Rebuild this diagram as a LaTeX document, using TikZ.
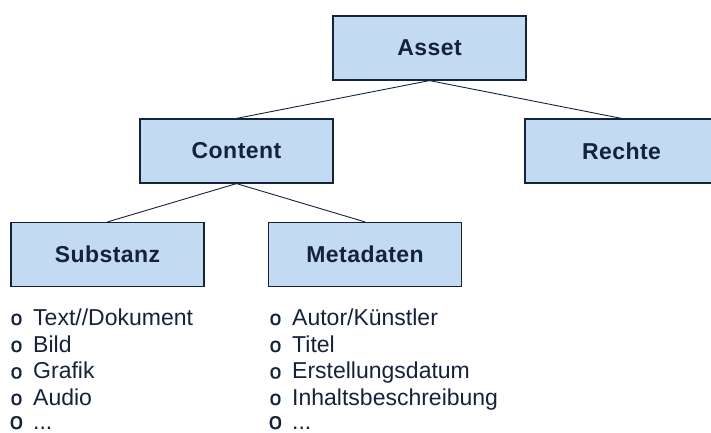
\documentclass[tikz,border=0pt]{standalone}
\usepackage{fontspec}
\setmainfont{Liberation Sans}
\newfontfamily\labelfont[LetterSpace=2]{Liberation Sans}
\newfontfamily\bulletfont[FakeBold=0.6]{Liberation Mono}
\usepackage{xcolor}
\definecolor{boxblue}{HTML}{C2DAF2}
\definecolor{inkblue}{HTML}{14233A}
\newcommand{\bul}{\makebox[24pt][l]{\hspace{1pt}\fontsize{21}{24}\bulletfont o}}
\newcommand{\bigbul}{\makebox[24pt][l]{\fontsize{24}{26}\bulletfont o}}
\tikzset{
    box/.style = {draw=inkblue, fill=boxblue, line width=1.2pt, rectangle, minimum width=193pt, minimum height=64pt, inner sep=0pt, text=inkblue, font=\labelfont\bfseries\fontsize{23}{27}\selectfont},
    listitem/.style = {anchor=base west, inner sep=0pt, text=inkblue, font=\fontsize{23}{27}\selectfont},
    link/.style = {draw=inkblue, line width=0.9pt},
}

\begin{document}
\begin{tikzpicture}[x=1pt,y=1pt]
\useasboundingbox (0,0) rectangle (711,432);
\node[box] (asset) at (429.5,384) {Asset};
\node[box] (content) at (236.5,281) {Content};
\node[box] (rechte) at (621.5,281) {Rechte};
\node[box] (substanz) at (107.5,177.5) {Substanz};
\node[box] (metadaten) at (365,177.5) {Metadaten};
\draw[link] (asset.south) -- (content.north);
\draw[link] (asset.south) -- (rechte.north);
\draw[link] (content.south) -- (substanz.north);
\draw[link] (content.south) -- (metadaten.north);
% Substanz
\node[listitem] (sub1) at (9,107) {\bul Text//Dokument};
\node[listitem] (sub2) at (9,80) {\bul Bild};
\node[listitem] (sub3) at (9,53.5) {\bul Grafik};
\node[listitem] (sub4) at (9,27) {\bul Audio};
\node[listitem] (sub5) at (9,3) {\bigbul ...};
% Metadaten
\node[listitem] (meta1) at (268,107) {\bul Autor/Künstler};
\node[listitem] (meta2) at (268,80) {\bul Titel};
\node[listitem] (meta3) at (268,53.5) {\bul Erstellungsdatum};
\node[listitem] (meta4) at (268,27) {\bul Inhaltsbeschreibung};
\node[listitem] (meta5) at (268,3) {\bigbul ...};
\end{tikzpicture}
\end{document}
